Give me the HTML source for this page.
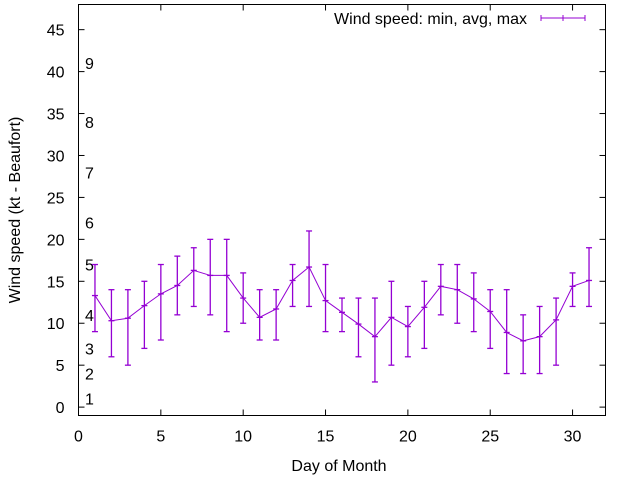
<!DOCTYPE html>
<html><head><meta charset="utf-8"><style>
body{margin:0;background:#fff}
svg text{font-family:"Liberation Sans",sans-serif;font-size:16px;fill:#000}
</style></head><body>
<svg id="chart" width="640" height="480" xmlns="http://www.w3.org/2000/svg">
<rect x="0" y="0" width="640" height="480" fill="#fff"/>
<g id="axes"></g>
<g id="series"></g>
<rect x="78.5" y="4.5" width="527" height="411" fill="none" stroke="#000" stroke-width="1"/>
<text x="339" y="471" text-anchor="middle">Day of Month</text>
<text transform="translate(20,210) rotate(-90)" text-anchor="middle">Wind speed (kt - Beaufort)</text>
<g>
<text x="527" y="24" text-anchor="end">Wind speed: min, avg, max</text>
<line x1="541" y1="18" x2="585" y2="18" stroke="#9400d3"/>
<line x1="541" y1="15" x2="541" y2="21" stroke="#9400d3"/>
<line x1="563" y1="15" x2="563" y2="21" stroke="#9400d3"/>
<line x1="585" y1="15" x2="585" y2="21" stroke="#9400d3"/>
</g>
</svg>
<script>
const days=[1,2,3,4,5,6,7,8,9,10,11,12,13,14,15,16,17,18,19,20,21,22,23,24,25,26,27,28,29,30,31];
const minVals=[9,6,5,7,8,11,12,11,9,10,8,8,12,12,9,9,6,3,5,6,7,11,10,9,7,4,4,4,5,12,12];
const avgVals=[13.3,10.3,10.6,12.1,13.5,14.5,16.3,15.7,15.7,13.0,10.7,11.7,15.1,16.7,12.7,11.3,9.9,8.4,10.7,9.6,11.9,14.4,14.0,12.9,11.4,8.9,7.9,8.4,10.4,14.4,15.1];
const maxVals=[17,14,14,15,17,18,19,20,20,16,14,14,17,21,17,13,13,13,15,12,15,17,17,16,14,14,11,12,13,16,19];
const xTicks=[0,5,10,15,20,25,30];
const yTicks=[0,5,10,15,20,25,30,35,40,45];
const beaufortKt=[1,4,7,11,17,22,28,34,41];
const beaufortLabels=["1","2","3","4","5","6","7","8","9"];
const NS="http://www.w3.org/2000/svg";
const X0=78.5,X1=605.5,Y0=415.5,Y1=4.5,xmin=0,xmax=32,ymin=-1,ymax=48;
const sx=v=>X0+(v-xmin)/(xmax-xmin)*(X1-X0);
const sy=v=>Y0-(v-ymin)/(ymax-ymin)*(Y0-Y1);
function mk(tag,attrs,parent){const e=document.createElementNS(NS,tag);for(const k in attrs)e.setAttribute(k,attrs[k]);parent.appendChild(e);return e;}
const ax=document.getElementById('axes'),se=document.getElementById('series');
xTicks.forEach(t=>{const x=sx(t);
mk('line',{x1:x,y1:Y0,x2:x,y2:Y0-6,stroke:'#000'},ax);
mk('line',{x1:x,y1:Y1,x2:x,y2:Y1+6,stroke:'#000'},ax);
const tx=mk('text',{x:x,y:Y0+26,'text-anchor':'middle'},ax);tx.textContent=t;

});
yTicks.forEach(t=>{const y=sy(t);
mk('line',{x1:X0,y1:y,x2:X0+6,y2:y,stroke:'#000'},ax);
mk('line',{x1:X1,y1:y,x2:X1-6,y2:y,stroke:'#000'},ax);
const tx=mk('text',{x:X0-14,y:y+6,'text-anchor':'end'},ax);tx.textContent=t;

});
beaufortKt.forEach((k,i)=>{const tx=mk('text',{x:85,y:sy(k)+6},ax);tx.textContent=beaufortLabels[i];

});
let pts=days.map((d,i)=>sx(d)+','+sy(avgVals[i])).join(' ');
const pl=mk('polyline',{points:pts,fill:'none',stroke:'#9400d3','stroke-width':1},se);


days.forEach((d,i)=>{const x=sx(d),a=sy(minVals[i]),b=sy(maxVals[i]);
const g=mk('g',{stroke:'#9400d3','stroke-width':1.3},se);


mk('line',{x1:x,y1:a,x2:x,y2:b},g);
mk('line',{x1:x-3,y1:a,x2:x+3,y2:a},g);
mk('line',{x1:x-3,y1:b,x2:x+3,y2:b},g);
mk('line',{x1:x-3,y1:sy(avgVals[i]),x2:x+3,y2:sy(avgVals[i])},g);});
</script>
</body></html>
